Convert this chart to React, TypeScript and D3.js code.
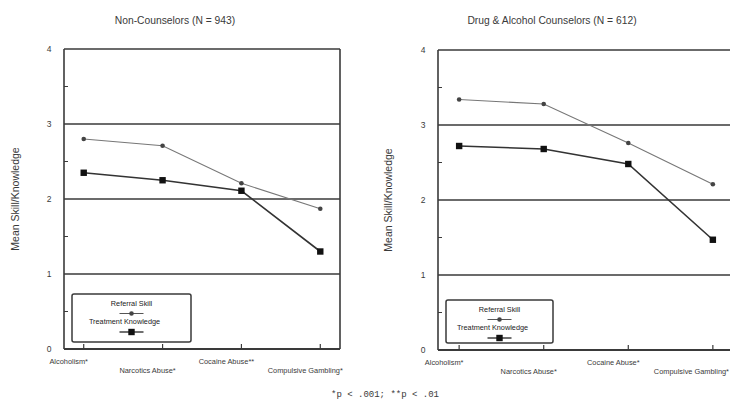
import React from 'react'
import * as d3 from 'd3'

const categories = ['Alcoholism*', 'Narcotics Abuse*', 'Cocaine Abuse**', 'Compulsive Gambling*']
const categoriesCounselors = ['Alcoholism*', 'Narcotics Abuse*', 'Cocaine Abuse*', 'Compulsive Gambling*']
const seriesNames = ['Referral Skill', 'Treatment Knowledge']

const nonCounselorReferral = [2.8, 2.71, 2.21, 1.87]
const nonCounselorTreatment = [2.35, 2.25, 2.11, 1.3]
const counselorReferral = [3.34, 3.28, 2.76, 2.21]
const counselorTreatment = [2.72, 2.68, 2.48, 1.47]

const yTicks = [0, 1, 2, 3, 4]
const font = '"Liberation Sans", Arial, sans-serif'
const ink = '#3a3a3a'

type PanelProps = {
  title: string
  titleX: number
  cats: string[]
  referral: number[]
  treatment: number[]
  x0: number
  x1: number
  y0: number
  labelX: number
  legend: { x: number, y: number, w: number, h: number }
}

function Panel(props: PanelProps) {
  const { title, titleX, cats, referral, treatment, x0, x1, y0, labelX, legend } = props
  const x = d3.scalePoint<string>().domain(cats).range([x0, x1]).padding(0.25)
  const y = d3.scaleLinear().domain([0, 4]).range([y0, y0 - 300])
  const line = d3.line<number>().x((d, i) => x(cats[i])!).y(d => y(d))
  const minor = d3.range(0.5, 4, 1)
  const lx = legend.x + legend.w / 2

  return (
    <g>
      <text x={titleX} y={24} textAnchor="middle" fontSize={10.3} fill={ink} fontFamily={font}>{title}</text>
      <text transform={`translate(${labelX},${y(2)}) rotate(-90)`} textAnchor="middle" fontSize={10.5} fill={ink} fontFamily={font}>Mean Skill/Knowledge</text>

      {yTicks.slice(1).map(t => (
        <line key={t} x1={x0} x2={x1} y1={y(t)} y2={y(t)} stroke={ink} strokeWidth={1.6} />
      ))}
      <line x1={x0} x2={x0} y1={y(4)} y2={y(0)} stroke={ink} strokeWidth={1.6} />
      <line x1={x1} x2={x1} y1={y(4)} y2={y(0)} stroke={ink} strokeWidth={1.6} />
      <line x1={x0} x2={x1} y1={y(0)} y2={y(0)} stroke={ink} strokeWidth={1.8} />

      {minor.map(t => (
        <line key={t} x1={x0} x2={x0 + 4} y1={y(t)} y2={y(t)} stroke={ink} strokeWidth={1} />
      ))}
      {yTicks.map(t => (
        <text key={t} x={x0 - 15} y={y(t) + 3} textAnchor="middle" fontSize={8.5} fill={ink} fontFamily={font}>{t}</text>
      ))}
      {cats.map((c, i) => {
        const cx = x(c)! - 15
        const half = c.length * 1.95
        const clamp = cx + half > 729
        return (
          <g key={c}>
            <line x1={x(c)} x2={x(c)} y1={y(0)} y2={y(0) - 5} stroke={ink} strokeWidth={1.2} />
            <text x={clamp ? 729 : cx} y={y(0) + (i % 2 === 0 ? 15 : 24)} textAnchor={clamp ? 'end' : 'middle'}
              fontSize={7.4} fill={ink} fontFamily={font}>{c}</text>
          </g>
        )
      })}

      <path d={line(referral)!} fill="none" stroke="#777" strokeWidth={1.1} />
      {referral.map((v, i) => (
        <circle key={i} cx={x(cats[i])} cy={y(v)} r={2.3} fill="#444" />
      ))}
      <path d={line(treatment)!} fill="none" stroke="#333" strokeWidth={1.6} />
      {treatment.map((v, i) => (
        <rect key={i} x={x(cats[i])! - 3.2} y={y(v) - 3.2} width={6.4} height={6.4} fill="#111" />
      ))}

      <rect x={legend.x} y={legend.y} width={legend.w} height={legend.h} rx={2} fill="#fff" stroke={ink} strokeWidth={1.5} />
      <text x={lx} y={legend.y + 12} textAnchor="middle" fontSize={7.3} fill="#222" fontFamily={font}>{seriesNames[0]}</text>
      <line x1={lx - 12} x2={lx + 12} y1={legend.y + 19.5} y2={legend.y + 19.5} stroke="#555" strokeWidth={1} />
      <circle cx={lx} cy={legend.y + 19.5} r={2.3} fill="#444" />
      <text x={lx - 7} y={legend.y + 30} textAnchor="middle" fontSize={7.3} fill="#222" fontFamily={font}>{seriesNames[1]}</text>
      <line x1={lx - 12} x2={lx + 12} y1={legend.y + 38} y2={legend.y + 38} stroke="#333" strokeWidth={1.4} />
      <rect x={lx - 3.2} y={legend.y + 34.8} width={6.4} height={6.4} fill="#111" />
    </g>
  )
}

export default function App() {
  return (
    <svg width={730} height={401} style={{ position: 'absolute', left: 0, top: 0, background: '#fff' }}>
      <Panel title="Non-Counselors (N = 943)" titleX={175} cats={categories} referral={nonCounselorReferral} treatment={nonCounselorTreatment}
        x0={64} x1={340} y0={349} labelX={19} legend={{ x: 72, y: 294, w: 119, h: 48 }} />
      <Panel title="Drug & Alcohol Counselors (N = 612)" titleX={552} cats={categoriesCounselors} referral={counselorReferral} treatment={counselorTreatment}
        x0={438} x1={734} y0={350} labelX={392} legend={{ x: 446, y: 300, w: 107, h: 43 }} />
      <text x={385} y={397} textAnchor="middle" fontSize={9} fill={ink} fontFamily='"Liberation Mono", monospace'>*p &lt; .001; **p &lt; .01</text>
    </svg>
  )
}
